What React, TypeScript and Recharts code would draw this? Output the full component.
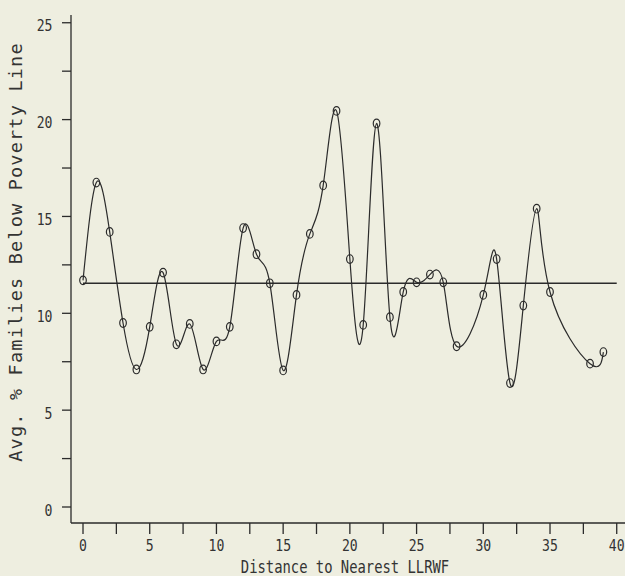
import React from 'react';
import { LineChart, Line, XAxis, YAxis, ReferenceLine, Label } from 'recharts';

const distance = [0, 1, 2, 3, 4, 5, 6, 7, 8, 9, 10, 11, 12, 13, 14, 15, 16, 17, 18, 19, 20, 21, 22, 23, 24, 25, 26, 27, 28, 30, 31, 32, 33, 34, 35, 38, 39];
const povertyPct = [11.7, 16.75, 14.2, 9.5, 7.1, 9.3, 12.1, 8.4, 9.45, 7.1, 8.55, 9.3, 14.4, 13.05, 11.55, 7.05, 10.95, 14.1, 16.6, 20.45, 12.8, 9.4, 19.8, 9.8, 11.1, 11.6, 12.0, 11.6, 8.3, 10.95, 12.8, 6.4, 10.4, 15.4, 11.1, 7.4, 8.0];
const xTicks = [0, 2.5, 5, 7.5, 10, 12.5, 15, 17.5, 20, 22.5, 25, 27.5, 30, 32.5, 35, 37.5, 40];
const yTicks = [0, 2.5, 5, 7.5, 10, 12.5, 15, 17.5, 20, 22.5, 25];
const referenceLevel = 11.55;
const xTitle = 'Distance to Nearest LLRWF';
const yTitle = 'Avg. % Families Below Poverty Line';

const rows = distance.map((d, i) => ({ distance: d, pct: povertyPct[i] }));

const INK = '#2b2b2b';
const TEXT = '#333333';
const BG = '#eeeee0';
const FONT = '"DejaVu Sans Mono", monospace';

function XTick(props: any) {
  const { x, y, payload } = props;
  const v = payload.value;
  if (v % 5 !== 0) return <g />;
  return (
    <text transform={`translate(${x},${y + 14.5}) scale(0.82,1)`} textAnchor="middle" fontFamily={FONT} fontSize={16} fill={TEXT}>
      {v}
    </text>
  );
}

function YTick(props: any) {
  const { x, y, payload } = props;
  const v = payload.value;
  if (v % 5 !== 0) return <g />;
  return (
    <text transform={`translate(${x},${y + 8.5}) scale(0.82,1)`} textAnchor="end" fontFamily={FONT} fontSize={16} fill={TEXT}>
      {v}
    </text>
  );
}

function Dot(props: any) {
  const { cx, cy, index } = props;
  if (cx == null || cy == null) return <g key={`d${index}`} />;
  return <ellipse key={`d${index}`} cx={cx} cy={cy} rx={3.3} ry={4.3} fill="none" stroke={INK} strokeWidth={1.2} />;
}

export default function App() {
  return (
    <div style={{ position: 'absolute', left: 0, top: 0, width: 625, height: 576, background: BG }}>
      <LineChart width={625} height={576} data={rows} margin={{ top: 15, right: 0, left: 0, bottom: 0 }}>
        <XAxis
          dataKey="distance"
          type="number"
          domain={[-0.9, 40.62]}
          ticks={xTicks}
          interval={0}
          allowDataOverflow
          height={53}
          tickSize={11}
          tickMargin={2}
          tick={<XTick />}
          axisLine={{ stroke: INK, strokeWidth: 1.3 }}
          tickLine={{ stroke: INK, strokeWidth: 1.3 }}
        >
          <Label
            content={() => (
              <text transform="translate(345,572.5) scale(0.77,1)" textAnchor="middle" fontFamily={FONT} fontSize={18} fill={TEXT}>
                {xTitle}
              </text>
            )}
          />
        </XAxis>
        <YAxis
          type="number"
          domain={[-0.826, 25.4]}
          ticks={yTicks}
          interval={0}
          allowDataOverflow
          width={71}
          tickSize={9}
          tickMargin={9.5}
          tick={<YTick />}
          axisLine={{ stroke: INK, strokeWidth: 1.3 }}
          tickLine={{ stroke: INK, strokeWidth: 1.3 }}
        >
          <Label
            content={() => (
              <text transform="translate(22,252) rotate(-90)" textAnchor="middle" fontFamily={FONT} fontSize={18.5} letterSpacing={1.2} fill={TEXT}>
                {yTitle}
              </text>
            )}
          />
        </YAxis>
        <ReferenceLine
          segment={[{ x: 0, y: referenceLevel }, { x: 40, y: referenceLevel }]}
          stroke={INK}
          strokeWidth={1.4}
        />
        <Line
          type="natural"
          dataKey="pct"
          stroke={INK}
          strokeWidth={1.2}
          dot={<Dot />}
          activeDot={false}
          isAnimationActive={false}
        />
      </LineChart>
    </div>
  );
}
